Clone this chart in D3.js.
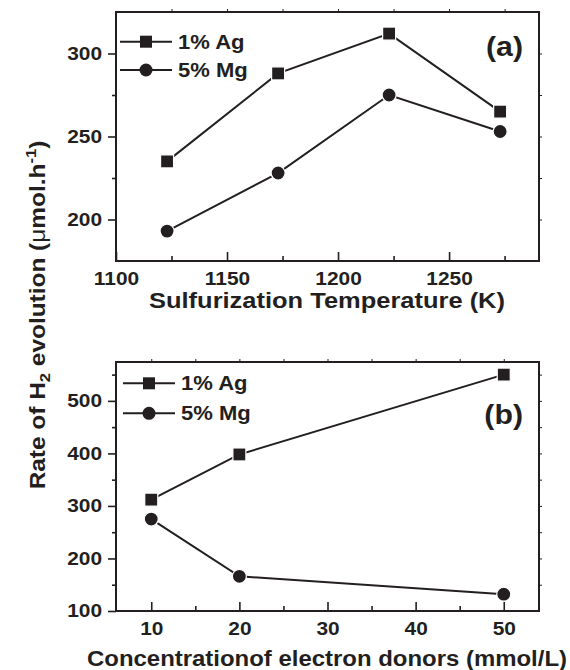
<!DOCTYPE html>
<html><head><meta charset="utf-8">
<script src="https://cdn.jsdelivr.net/npm/d3@7"></script>
<style>
body{margin:0;background:#fff}
text{font-family:"Liberation Sans",Arial,sans-serif;font-weight:bold;fill:#231f20}
</style>
</head><body>
<svg id="c" width="570" height="670"></svg>
<script>
// ---- data ----
const seriesNames = ["1% Ag", "5% Mg"];
const tempK = [1123, 1173, 1223, 1273];
const agTemp = [235, 288, 312, 265];
const mgTemp = [193, 228, 275, 253];
const donorConc = [10, 20, 50];
const agDonor = [312, 398, 550];
const mgDonor = [275, 166, 132];
const tempTicks = [1100, 1150, 1200, 1250];
const tempMinor = [1125, 1175, 1225, 1275];
const rateTicksA = [200, 250, 300];
const rateMinorA = [175, 225, 275, 325];
const concTicks = [10, 20, 30, 40, 50];
const concMinor = [15, 25, 35, 45];
const rateTicksB = [100, 200, 300, 400, 500];
const rateMinorB = [150, 250, 350, 450, 550];

const svg = d3.select("#c");
const ink = "#231f20";
const L = 116, R = 539;
const SX = 1.13; // horizontal stretch of the original lettering

function stretch(sel, f) {
  sel.each(function () {
    const w = this.getComputedTextLength();
    d3.select(this).attr("textLength", w * f).attr("lengthAdjust", "spacingAndGlyphs");
  });
}

function panel(o) {
  const x = d3.scaleLinear().domain(o.xDomain).range([L, R]);
  const y = d3.scaleLinear().domain(o.yDomain).range([o.bottom, o.top]);
  const g = svg.append("g");

  // bottom axis: ticks inward
  const bx = g.append("g").attr("transform", `translate(0,${o.bottom})`)
    .call(d3.axisBottom(x).tickValues(o.xTicks).tickSize(-9).tickFormat(d3.format("d")));
  bx.select(".domain").remove();
  bx.selectAll("line").attr("stroke", ink).attr("stroke-width", 1.6);
  bx.selectAll("text").attr("font-size", 18.5).attr("y", 11).attr("dy", "0.71em").style("fill", ink);
  stretch(bx.selectAll("text"), SX);
  const bm = g.append("g").attr("transform", `translate(0,${o.bottom})`)
    .call(d3.axisBottom(x).tickValues(o.xMinor).tickSize(-5).tickFormat(""));
  bm.select(".domain").remove();
  bm.selectAll("line").attr("stroke", ink).attr("stroke-width", 1.6);

  // left axis: ticks outward
  const ly = g.append("g").attr("transform", `translate(${L},0)`)
    .call(d3.axisLeft(y).tickValues(o.yTicks).tickSize(8).tickPadding(6).tickFormat(d3.format("d")));
  ly.select(".domain").remove();
  ly.selectAll("line").attr("stroke", ink).attr("stroke-width", 1.6);
  ly.selectAll("text").attr("font-size", 18.5).style("fill", ink);
  stretch(ly.selectAll("text"), SX);
  const lm = g.append("g").attr("transform", `translate(${L},0)`)
    .call(d3.axisLeft(y).tickValues(o.yMinor.filter(v => v > o.yDomain[0] && v < o.yDomain[1])).tickSize(4).tickFormat(""));
  lm.select(".domain").remove();
  lm.selectAll("line").attr("stroke", ink).attr("stroke-width", 1.6);

  // right & top small outward ticks
  const ry = g.append("g").attr("transform", `translate(${R},0)`)
    .call(d3.axisRight(y).tickValues(o.yTicks.concat(o.yMinor).filter(v => v > o.yDomain[0] && v < o.yDomain[1])).tickSize(3).tickFormat(""));
  ry.select(".domain").remove();
  ry.selectAll("line").attr("stroke", ink).attr("stroke-width", 1);
  const tx = g.append("g").attr("transform", `translate(0,${o.top})`)
    .call(d3.axisTop(x).tickValues(o.xTicks.concat(o.xMinor).filter(v => v > o.xDomain[0] && v < o.xDomain[1])).tickSize(3).tickFormat(""));
  tx.select(".domain").remove();
  tx.selectAll("line").attr("stroke", ink).attr("stroke-width", 1);

  // frame
  g.append("rect").attr("x", L).attr("y", o.top).attr("width", R - L).attr("height", o.bottom - o.top)
    .attr("fill", "none").attr("stroke", ink).attr("stroke-width", 2);

  // lines & markers
  const line = d3.line().x(d => x(d[0])).y(d => y(d[1]));
  o.series.forEach((s, i) => {
    const pts = o.xs.map((v, j) => [v, s[j]]);
    g.append("path").datum(pts).attr("d", line).attr("fill", "none").attr("stroke", ink).attr("stroke-width", 2);
    if (i === 0) {
      g.selectAll(null).data(pts).enter().append("rect")
        .attr("x", d => x(d[0]) - 6.5).attr("y", d => y(d[1]) - 6.5).attr("width", 13).attr("height", 13)
        .attr("fill", ink).attr("stroke", "#fff").attr("stroke-width", 1.2);
    } else {
      g.selectAll(null).data(pts).enter().append("circle")
        .attr("cx", d => x(d[0])).attr("cy", d => y(d[1])).attr("r", 7)
        .attr("fill", ink).attr("stroke", "#fff").attr("stroke-width", 1.2);
    }
  });

  // legend
  seriesNames.forEach((name, i) => {
    const ly0 = o.legY[i];
    g.append("line").attr("x1", o.legX).attr("x2", o.legX + 52).attr("y1", ly0).attr("y2", ly0)
      .attr("stroke", ink).attr("stroke-width", 2);
    const cx = o.legX + 26;
    if (i === 0) g.append("rect").attr("x", cx - 6).attr("y", ly0 - 6).attr("width", 12).attr("height", 12).attr("fill", ink);
    else g.append("circle").attr("cx", cx).attr("cy", ly0).attr("r", 6.5).attr("fill", ink);
    const t = g.append("text").attr("x", o.legX + 58).attr("y", ly0).attr("dy", "0.36em").attr("font-size", 19.5).text(name);
    stretch(t, SX);
  });

  // panel label
  const pl = g.append("text").attr("x", 523).attr("y", o.labY).attr("text-anchor", "end").attr("font-size", 28).text(o.label);
  stretch(pl, 1.08);

  // x title
  const tt = g.append("text").attr("x", (L + R) / 2 - 0.5).attr("y", o.titleY).attr("text-anchor", "middle")
    .attr("font-size", 22).text(o.title);
  tt.attr("textLength", o.titleW).attr("lengthAdjust", "spacingAndGlyphs");
}

panel({
  top: 12, bottom: 261, xDomain: [1100, 1290.5], yDomain: [175, 325],
  xTicks: tempTicks, xMinor: tempMinor, yTicks: rateTicksA, yMinor: rateMinorA,
  xs: tempK, series: [agTemp, mgTemp],
  legX: 120, legY: [41.7, 70], label: "(a)", labY: 56,
  title: "Sulfurization Temperature (K)", titleY: 308, titleW: 356
});
panel({
  top: 362, bottom: 611, xDomain: [6, 54], yDomain: [100, 574],
  xTicks: concTicks, xMinor: concMinor, yTicks: rateTicksB, yMinor: rateMinorB,
  xs: donorConc, series: [agDonor, mgDonor],
  legX: 123, legY: [383.3, 413.3], label: "(b)", labY: 424,
  title: "Concentrationof electron donors (mmol/L)", titleY: 666, titleW: 480
});

// shared y title
const yt = svg.append("text").attr("transform", `translate(45,315) rotate(-90) scale(1.11,1)`)
  .attr("text-anchor", "middle").attr("font-size", 22);
yt.append("tspan").text("Rate of H");
yt.append("tspan").attr("font-size", 15).attr("dy", 5).text("2");
yt.append("tspan").attr("dy", -5).text(" evolution (");
yt.append("tspan").attr("font-weight", "normal").text("μ");
yt.append("tspan").text("mol.h");
yt.append("tspan").attr("font-size", 15).attr("dy", -9).text("-1");
yt.append("tspan").attr("dy", 9).text(")");
</script>
</body></html>
